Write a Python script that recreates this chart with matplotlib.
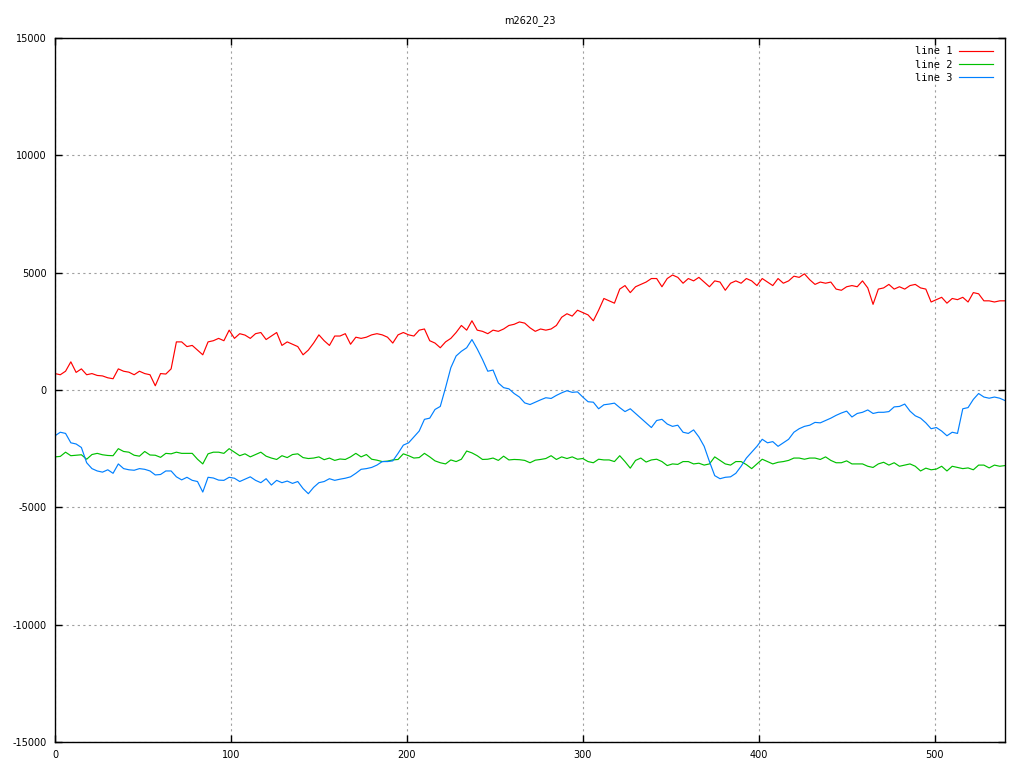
import numpy as np
import matplotlib
matplotlib.use("Agg")
import matplotlib.pyplot as plt

plt.rcParams["axes.unicode_minus"] = False

title = "m2620_23"
labels = ["line 1", "line 2", "line 3"]
colors = ["#ff0000", "#00c000", "#0080ff"]

x = np.arange(0, 541, 3)

line1 = [700, 650, 800, 1200, 750, 900, 650, 700, 620, 600, 520, 480, 900, 800, 760, 650, 800, 700, 650, 180,
         700, 680, 900, 2050, 2050, 1850, 1900, 1700, 1500, 2050, 2100,
         2200, 2100, 2550, 2200, 2400, 2340, 2200, 2400, 2450, 2150, 2300, 2450, 1900, 2050, 1950, 1850, 1500,
         1700, 2000, 2350, 2100, 1900, 2300, 2300, 2400, 1950, 2250, 2200, 2250, 2350,
         2400, 2350, 2250, 2000, 2350, 2450, 2350, 2300, 2550, 2600, 2100, 2000, 1800, 2050, 2200, 2450, 2750,
         2550, 2950, 2550, 2500, 2400, 2550, 2500, 2600, 2750, 2800, 2900, 2850, 2650,
         2500, 2600, 2550, 2600, 2750, 3100, 3250, 3150, 3400, 3300, 3200, 2950, 3400, 3900, 3800, 3700, 4300,
         4450, 4150, 4400, 4500, 4600, 4750, 4750, 4400, 4750, 4900, 4800, 4550, 4750, 4650,
         4800, 4600, 4400, 4650, 4600, 4250, 4550, 4650, 4550, 4750, 4650, 4450, 4750, 4600, 4450, 4750, 4550,
         4650, 4850, 4800, 4950, 4700, 4500, 4600, 4550, 4600, 4300, 4250, 4400, 4450,
         4400, 4650, 4350, 3650, 4300, 4350, 4500, 4300, 4400, 4300, 4450, 4500, 4350, 4300, 3750, 3850, 3950,
         3700, 3900, 3850, 3950, 3750, 4150, 4100, 3800, 3800, 3750, 3800, 3800]

line2 = [-2850, -2830, -2650, -2800, -2780, -2760, -2950, -2750, -2700, -2760, -2790, -2800, -2500, -2620,
         -2650, -2780, -2820, -2620, -2770, -2780, -2870, -2700, -2720, -2650, -2700, -2700, -2700, -2950,
         -3150, -2720, -2650,
         -2650, -2700, -2500, -2650, -2800, -2720, -2850, -2750, -2650, -2820, -2900, -2960, -2800, -2880,
         -2750, -2720, -2880, -2920, -2900, -2850, -2970, -2900, -3000, -2940, -2960, -2850, -2700, -2850,
         -2750, -2950,
         -2990, -3050, -3030, -2980, -2960, -2720, -2800, -2900, -2880, -2700, -2850, -3020, -3100, -3150,
         -2980, -3050, -2950, -2600, -2680, -2800, -2960, -2950, -2900, -3000, -2820, -2980, -2960, -2970,
         -3000, -3100,
         -2990, -2960, -2920, -2800, -2960, -2850, -2920, -2850, -2950, -2920, -3050, -3100, -2950, -2980,
         -2980, -3050, -2800, -3050, -3330, -3000, -2900, -3070, -2980, -2950, -3050, -3220, -3150, -3170,
         -3050, -3050, -3150,
         -3120, -3200, -3150, -2850, -3000, -3150, -3200, -3050, -3050, -3180, -3350, -3150, -2950, -3050,
         -3150, -3080, -3050, -3000, -2900, -2900, -2950, -2900, -2900, -2960, -2850, -3000, -3100, -3100,
         -3020, -3150,
         -3150, -3150, -3250, -3300, -3150, -3080, -3200, -3100, -3250, -3200, -3150, -3250, -3450, -3330,
         -3400, -3370, -3250, -3450, -3250, -3300, -3350, -3320, -3400, -3200, -3200, -3320, -3200, -3250,
         -3220]

line3 = [-1950, -1800, -1850, -2250, -2300, -2450, -3100, -3350, -3450, -3500, -3400, -3550, -3150, -3350,
         -3400, -3420, -3350, -3380, -3450, -3620, -3600, -3450, -3450, -3700, -3830, -3720, -3850, -3900,
         -4350, -3720, -3750,
         -3840, -3850, -3720, -3760, -3900, -3800, -3700, -3850, -3950, -3780, -4050, -3850, -3950, -3880,
         -3980, -3900, -4200, -4420, -4150, -3950, -3900, -3780, -3850, -3800, -3760, -3700, -3550, -3380,
         -3350, -3300,
         -3200, -3050, -3050, -3020, -2700, -2350, -2250, -2000, -1750, -1250, -1200, -830, -700, 100, 950,
         1450, 1650, 1800, 2150, 1750, 1300, 800, 850, 300, 100, 50, -150, -300, -550, -620,
         -520, -420, -330, -360, -230, -120, -30, -100, -80, -300, -500, -520, -800, -630, -600, -560, -750,
         -920, -800, -1000, -1200, -1400, -1600, -1300, -1250, -1450, -1550, -1500, -1800, -1850, -1700,
         -2000, -2400, -3050, -3650, -3780, -3720, -3700, -3550, -3250, -2900, -2650, -2400, -2100, -2250,
         -2200, -2400, -2250, -2100, -1800, -1650, -1550, -1500, -1380, -1400, -1300, -1200, -1080, -980,
         -900, -1150,
         -1000, -950, -850, -1000, -950, -950, -920, -720, -700, -600, -900, -1100, -1200, -1400, -1650,
         -1600, -1750, -1950, -1800, -1850, -800, -750, -400, -150, -300, -350, -300, -350, -450]

xticks = [0, 100, 200, 300, 400, 500]
yticks = [-15000, -10000, -5000, 0, 5000, 10000, 15000]

fig = plt.figure(figsize=(10.24, 7.68), dpi=100)
ax = fig.add_axes([55 / 1024, 26 / 768, 950 / 1024, 704 / 768])

for ys, lab, c in zip([line1, line2, line3], labels, colors):
    ax.plot(x, ys, color=c, lw=0.85, label=lab)

ax.set_xlim(0, 540)
ax.set_ylim(-15000, 15000)
ax.set_xticks(xticks)
ax.set_yticks(yticks)
ax.set_xticklabels([str(v) for v in xticks])
ax.set_yticklabels([str(v) for v in yticks])
ax.tick_params(direction="in", length=5, width=1, top=True, right=True,
               labelsize=7, pad=6, colors="black")
ax.grid(True, color="#a0a0a0", linestyle=(0, (2, 3)), linewidth=0.8)
for s in ax.spines.values():
    s.set_linewidth(1)
    s.set_color("black")

ax.set_title(title, fontsize=7, pad=11)

leg = ax.legend(loc="upper right", frameon=False, markerfirst=False,
                prop={"family": "DejaVu Sans Mono", "size": 7.5},
                handlelength=3.2, labelspacing=0.32, handletextpad=0.7,
                bbox_to_anchor=(1 - 8 / 950, 1 - 4 / 704), borderaxespad=0)

fig.savefig("out.png", dpi=100)
